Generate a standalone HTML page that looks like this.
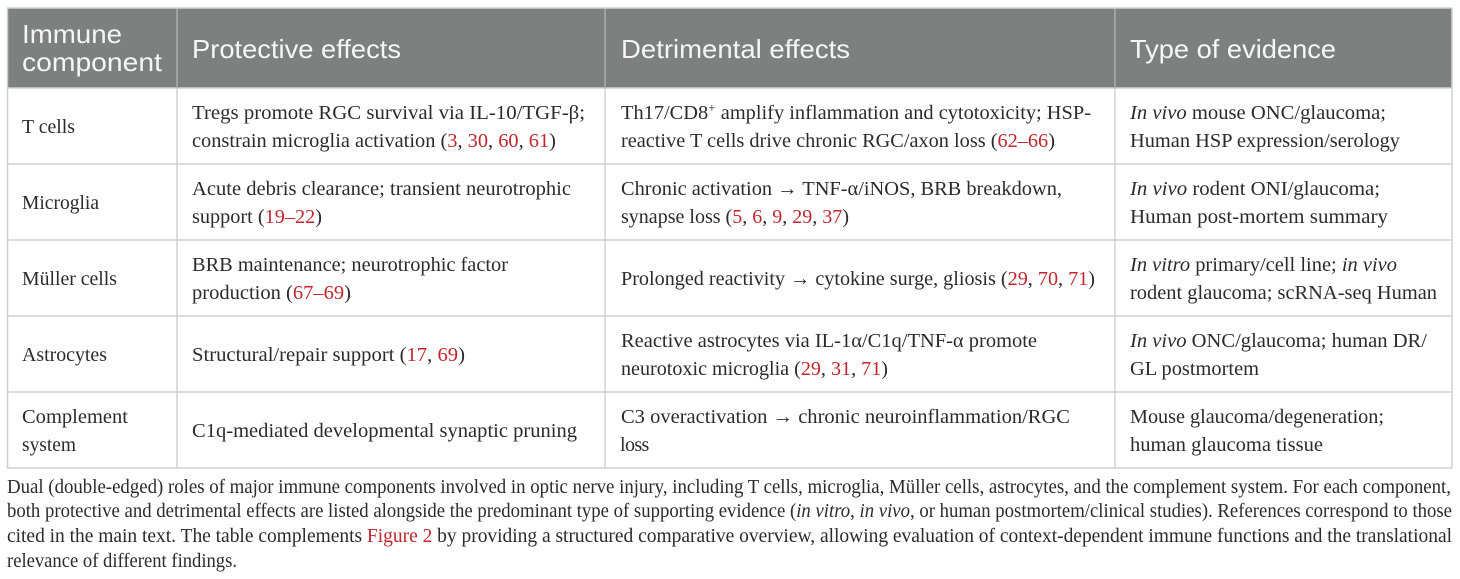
<!DOCTYPE html>
<html lang="en">
<head>
<meta charset="utf-8">
<title>Immune components table</title>
<style>
html,body{margin:0;padding:0;background:#fff;width:1460px;height:579px;overflow:hidden}
svg{display:block;filter:blur(0.35px)}
text{font-family:"Liberation Serif",serif;font-size:20px;fill:#2b2b2b;white-space:pre}
text.h{font-family:"Liberation Sans",sans-serif;font-size:26px;fill:#f6f6f6}
text.c{font-size:19.5px}
.r{fill:#c0272d}
.i{font-style:italic}
</style>
</head>
<body>
<svg width="1460" height="579" viewBox="0 0 1460 579">
<rect x="7" y="8" width="1445" height="80" fill="#7e807f"/>
<g stroke="#cfcfcf" stroke-width="1.5" fill="none">
<path d="M7.5 8V468M177 8V468M605 8V468M1115 8V468M1452 8V468M7 8H1452M7 88H1452M7 164H1452M7 240H1452M7 316H1452M7 392H1452M7 468H1452"/>
</g>
<path d="M177 9V88M605 9V88M1115 9V88" stroke="#9a9c9b" stroke-width="1"/>

<text class="h" x="22" y="43" textLength="100" lengthAdjust="spacingAndGlyphs">Immune</text>
<text class="h" x="22" y="71" textLength="140" lengthAdjust="spacingAndGlyphs">component</text>
<text class="h" x="192" y="58" textLength="209" lengthAdjust="spacingAndGlyphs">Protective effects</text>
<text class="h" x="621" y="58" textLength="229" lengthAdjust="spacingAndGlyphs">Detrimental effects</text>
<text class="h" x="1130" y="58" textLength="206" lengthAdjust="spacingAndGlyphs">Type of evidence</text>

<text x="22" y="133" textLength="53" lengthAdjust="spacingAndGlyphs">T cells</text>
<text x="192" y="119" textLength="393" lengthAdjust="spacingAndGlyphs">Tregs promote RGC survival via IL-10/TGF-β;</text>
<text x="192" y="147" textLength="364" lengthAdjust="spacingAndGlyphs">constrain microglia activation (<tspan class="r">3</tspan>, <tspan class="r">30</tspan>, <tspan class="r">60</tspan>, <tspan class="r">61</tspan>)</text>
<text x="621" y="119" textLength="470" lengthAdjust="spacingAndGlyphs">Th17/CD8<tspan font-size="13" dy="-7">+</tspan><tspan dy="7"> amplify inflammation and cytotoxicity; HSP-</tspan></text>
<text x="621" y="147" textLength="434" lengthAdjust="spacingAndGlyphs">reactive T cells drive chronic RGC/axon loss (<tspan class="r">62–66</tspan>)</text>
<text x="1130" y="119" textLength="256" lengthAdjust="spacingAndGlyphs"><tspan class="i">In vivo</tspan> mouse ONC/glaucoma;</text>
<text x="1130" y="147" textLength="270" lengthAdjust="spacingAndGlyphs">Human HSP expression/serology</text>

<text x="22" y="209" textLength="77" lengthAdjust="spacingAndGlyphs">Microglia</text>
<text x="192" y="195" textLength="379" lengthAdjust="spacingAndGlyphs">Acute debris clearance; transient neurotrophic</text>
<text x="192" y="223" textLength="130" lengthAdjust="spacingAndGlyphs">support (<tspan class="r">19–22</tspan>)</text>
<text x="621" y="195" textLength="441" lengthAdjust="spacingAndGlyphs">Chronic activation → TNF-α/iNOS, BRB breakdown,</text>
<text x="621" y="223" textLength="228" lengthAdjust="spacingAndGlyphs">synapse loss (<tspan class="r">5</tspan>, <tspan class="r">6</tspan>, <tspan class="r">9</tspan>, <tspan class="r">29</tspan>, <tspan class="r">37</tspan>)</text>
<text x="1130" y="195" textLength="250" lengthAdjust="spacingAndGlyphs"><tspan class="i">In vivo</tspan> rodent ONI/glaucoma;</text>
<text x="1130" y="223" textLength="258" lengthAdjust="spacingAndGlyphs">Human post-mortem summary</text>

<text x="22" y="285" textLength="95" lengthAdjust="spacingAndGlyphs">Müller cells</text>
<text x="192" y="271" textLength="316" lengthAdjust="spacingAndGlyphs">BRB maintenance; neurotrophic factor</text>
<text x="192" y="299" textLength="159" lengthAdjust="spacingAndGlyphs">production (<tspan class="r">67–69</tspan>)</text>
<text x="621" y="285" textLength="474" lengthAdjust="spacingAndGlyphs">Prolonged reactivity → cytokine surge, gliosis (<tspan class="r">29</tspan>, <tspan class="r">70</tspan>, <tspan class="r">71</tspan>)</text>
<text x="1130" y="271" textLength="267" lengthAdjust="spacingAndGlyphs"><tspan class="i">In vitro</tspan> primary/cell line; <tspan class="i">in vivo</tspan></text>
<text x="1130" y="299" textLength="307" lengthAdjust="spacingAndGlyphs">rodent glaucoma; scRNA-seq Human</text>

<text x="22" y="361" textLength="85" lengthAdjust="spacingAndGlyphs">Astrocytes</text>
<text x="192" y="361" textLength="273" lengthAdjust="spacingAndGlyphs">Structural/repair support (<tspan class="r">17</tspan>, <tspan class="r">69</tspan>)</text>
<text x="621" y="347" textLength="416" lengthAdjust="spacingAndGlyphs">Reactive astrocytes via IL-1α/C1q/TNF-α promote</text>
<text x="621" y="375" textLength="267" lengthAdjust="spacingAndGlyphs">neurotoxic microglia (<tspan class="r">29</tspan>, <tspan class="r">31</tspan>, <tspan class="r">71</tspan>)</text>
<text x="1130" y="347" textLength="297" lengthAdjust="spacingAndGlyphs"><tspan class="i">In vivo</tspan> ONC/glaucoma; human DR/</text>
<text x="1130" y="375" textLength="129" lengthAdjust="spacingAndGlyphs">GL postmortem</text>

<text x="22" y="423" textLength="106" lengthAdjust="spacingAndGlyphs">Complement</text>
<text x="22" y="451" textLength="54" lengthAdjust="spacingAndGlyphs">system</text>
<text x="192" y="437" textLength="385" lengthAdjust="spacingAndGlyphs">C1q-mediated developmental synaptic pruning</text>
<text x="621" y="423" textLength="449" lengthAdjust="spacingAndGlyphs">C3 overactivation → chronic neuroinflammation/RGC</text>
<text x="620" y="451" letter-spacing="-0.6">loss</text>
<text x="1130" y="423" textLength="254" lengthAdjust="spacingAndGlyphs">Mouse glaucoma/degeneration;</text>
<text x="1130" y="451" textLength="193" lengthAdjust="spacingAndGlyphs">human glaucoma tissue</text>

<text class="c" x="7" y="493" textLength="1444" lengthAdjust="spacingAndGlyphs">Dual (double-edged) roles of major immune components involved in optic nerve injury, including T cells, microglia, Müller cells, astrocytes, and the complement system. For each component,</text>
<text class="c" x="7" y="517" textLength="1445" lengthAdjust="spacingAndGlyphs">both protective and detrimental effects are listed alongside the predominant type of supporting evidence (<tspan class="i">in vitro</tspan>, <tspan class="i">in vivo</tspan>, or human postmortem/clinical studies). References correspond to those</text>
<text class="c" x="7" y="542" textLength="1445" lengthAdjust="spacing">cited in the main text. The table complements <tspan class="r">Figure 2</tspan> by providing a structured comparative overview, allowing evaluation of context-dependent immune functions and the translational</text>
<text class="c" x="7" y="567" textLength="230" lengthAdjust="spacingAndGlyphs">relevance of different findings.</text>
</svg>
</body>
</html>
